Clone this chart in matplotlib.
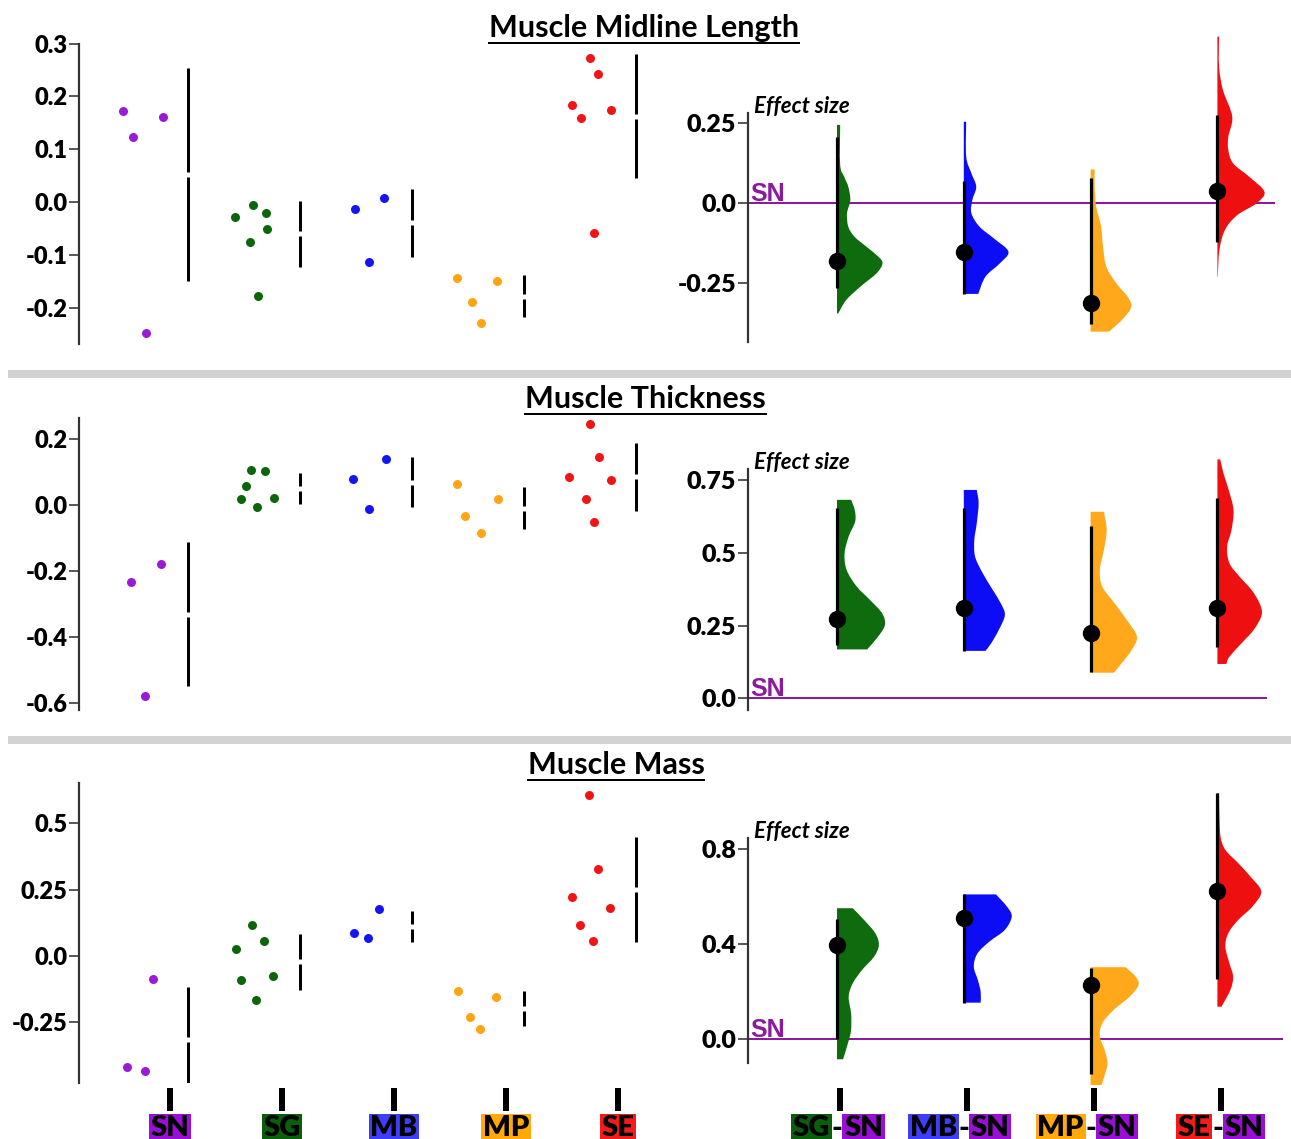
import matplotlib
matplotlib.use('Agg')
import matplotlib.pyplot as plt
import numpy as np
from matplotlib.patches import Rectangle, PathPatch
from matplotlib.path import Path
from matplotlib.lines import Line2D

plt.rcParams['font.family'] = ['Lato', 'DejaVu Sans']
plt.rcParams['font.weight'] = 'bold'

W, H, DPI = 1291, 1139, 100
PT = 72.0 / DPI  # points per pixel

# ---------------- data ----------------
groups = ['SN', 'SG', 'MB', 'MP', 'SE']
contrast_left = ['SG', 'MB', 'MP', 'SE']
contrast_right = ['SN', 'SN', 'SN', 'SN']
titles = ['Muscle Midline Length', 'Muscle Thickness', 'Muscle Mass']

# raw observations (per group) and strip jitter (category units)
midline_SN = [0.173, 0.124, 0.161, -0.248]
midline_SG = [-0.029, -0.006, -0.021, -0.051, -0.076, -0.178]
midline_MB = [-0.013, 0.007, -0.113]
midline_MP = [-0.143, -0.190, -0.150, -0.230]
midline_SE = [0.273, 0.243, 0.183, 0.160, 0.175, -0.059]
midline_jit = [[-0.17, -0.08, 0.19, 0.04],
               [-0.17, -0.01, 0.11, 0.12, -0.04, 0.04],
               [-0.10, 0.16, 0.03],
               [-0.19, -0.05, 0.17, 0.03],
               [0.0, 0.07, -0.16, -0.08, 0.19, 0.04]]

thick_SN = [-0.234, -0.178, -0.579]
thick_SG = [0.105, 0.103, 0.058, 0.017, -0.005, 0.022]
thick_MB = [0.080, 0.140, -0.012]
thick_MP = [0.063, 0.018, -0.032, -0.086]
thick_SE = [0.244, 0.146, 0.084, 0.077, 0.017, -0.053]
thick_jit = [[-0.10, 0.17, 0.03],
             [-0.03, 0.10, -0.07, -0.12, 0.03, 0.18],
             [-0.12, 0.18, 0.03],
             [-0.19, 0.18, -0.12, 0.03],
             [0.0, 0.08, -0.19, 0.19, -0.04, 0.04]]

mass_SN = [-0.088, -0.420, -0.432]
mass_SG = [0.116, 0.057, 0.026, -0.089, -0.077, -0.167]
mass_MB = [0.087, 0.068, 0.176]
mass_MP = [-0.131, -0.231, -0.274, -0.153]
mass_SE = [0.607, 0.329, 0.222, 0.180, 0.117, 0.055]
mass_jit = [[0.10, -0.13, 0.03],
            [-0.02, 0.09, -0.16, -0.12, 0.17, 0.02],
            [-0.11, 0.02, 0.12],
            [-0.18, -0.07, 0.02, 0.16],
            [-0.01, 0.07, -0.16, 0.18, -0.09, 0.03]]

# effect sizes (difference vs SN) with 95% CI
midline_es = [-0.181, -0.155, -0.3125, 0.036]
midline_lo = [-0.268, -0.285, -0.379, -0.122]
midline_hi = [0.206, 0.068, 0.076, 0.274]
thick_es = [0.271, 0.309, 0.223, 0.309]
thick_lo = [0.183, 0.163, 0.089, 0.178]
thick_hi = [0.655, 0.655, 0.593, 0.690]
mass_es = [0.396, 0.511, 0.228, 0.623]
mass_lo = [0.0, 0.154, -0.147, 0.254]
mass_hi = [0.504, 0.609, 0.301, 1.034]

# bootstrap distribution outlines (value, half-width)
midline_vy = [
    [0.243, 0.118, 0.081, 0.050, 0.008, -0.033, -0.075, -0.106, -0.1375, -0.169, -0.190, -0.221, -0.2625, -0.304, -0.346],
    [0.253, 0.144, 0.092, 0.050, 0.008, -0.033, -0.075, -0.111, -0.153, -0.190, -0.231, -0.285],
    [0.104, 0.050, -0.0125, -0.075, -0.1375, -0.200, -0.252, -0.294, -0.325, -0.361, -0.403],
    [0.519, 0.425, 0.352, 0.269, 0.206, 0.165, 0.123, 0.081, 0.034, -0.002, -0.039, -0.085, -0.148, -0.231]]
midline_vw = [
    [0.025, 0.025, 0.057, 0.089, 0.105, 0.079, 0.089, 0.137, 0.232, 0.327, 0.359, 0.311, 0.184, 0.073, 0.010],
    [0.019, 0.019, 0.060, 0.098, 0.067, 0.060, 0.124, 0.235, 0.352, 0.283, 0.171, 0.114],
    [0.032, 0.032, 0.044, 0.083, 0.098, 0.124, 0.203, 0.292, 0.321, 0.260, 0.146],
    [0.013, 0.013, 0.044, 0.117, 0.086, 0.086, 0.124, 0.251, 0.371, 0.308, 0.156, 0.060, 0.016, 0.003]]

thick_vy = [
    [0.682, 0.647, 0.607, 0.556, 0.498, 0.441, 0.384, 0.338, 0.292, 0.252, 0.212, 0.168],
    [0.716, 0.670, 0.601, 0.544, 0.487, 0.430, 0.372, 0.326, 0.286, 0.235, 0.189, 0.163],
    [0.641, 0.578, 0.510, 0.441, 0.384, 0.326, 0.269, 0.212, 0.166, 0.120, 0.088],
    [0.821, 0.773, 0.716, 0.647, 0.578, 0.521, 0.464, 0.418, 0.372, 0.326, 0.286, 0.235, 0.189, 0.143, 0.118]]
thick_vw = [
    [0.111, 0.140, 0.143, 0.092, 0.060, 0.076, 0.156, 0.260, 0.356, 0.378, 0.324, 0.238],
    [0.102, 0.117, 0.102, 0.083, 0.089, 0.149, 0.229, 0.292, 0.324, 0.276, 0.216, 0.171],
    [0.105, 0.127, 0.105, 0.073, 0.092, 0.190, 0.286, 0.365, 0.324, 0.244, 0.184],
    [0.022, 0.048, 0.089, 0.127, 0.111, 0.076, 0.095, 0.175, 0.270, 0.333, 0.349, 0.286, 0.190, 0.095, 0.070]]

mass_vy = [
    [0.551, 0.502, 0.446, 0.396, 0.347, 0.291, 0.235, 0.179, 0.109, 0.039, -0.017, -0.084],
    [0.609, 0.558, 0.516, 0.460, 0.411, 0.361, 0.305, 0.249, 0.200, 0.154],
    [0.303, 0.263, 0.228, 0.179, 0.123, 0.067, 0.011, -0.045, -0.101, -0.150, -0.192],
    [1.034, 0.939, 0.852, 0.796, 0.740, 0.684, 0.621, 0.558, 0.502, 0.446, 0.389, 0.319, 0.263, 0.207, 0.137]]
mass_vw = [
    [0.124, 0.213, 0.302, 0.330, 0.292, 0.197, 0.124, 0.092, 0.111, 0.111, 0.086, 0.048],
    [0.254, 0.340, 0.378, 0.324, 0.203, 0.108, 0.079, 0.111, 0.133, 0.133],
    [0.276, 0.356, 0.378, 0.308, 0.181, 0.092, 0.073, 0.111, 0.133, 0.111, 0.086],
    [0.013, 0.016, 0.025, 0.063, 0.165, 0.260, 0.346, 0.276, 0.165, 0.086, 0.063, 0.095, 0.124, 0.102, 0.032]]

left_ticks = [[-0.2, -0.1, 0.0, 0.1, 0.2, 0.3], [-0.6, -0.4, -0.2, 0.0, 0.2], [-0.25, 0.0, 0.25, 0.5]]
left_ticklabels = [['-0.2', '-0.1', '0.0', '0.1', '0.2', '0.3'],
                   ['-0.6', '-0.4', '-0.2', '0.0', '0.2'],
                   ['-0.25', '0.0', '0.25', '0.5']]
right_ticks = [[-0.25, 0.0, 0.25], [0.0, 0.25, 0.5, 0.75], [0.0, 0.4, 0.8]]
right_ticklabels = [['-0.25', '0.0', '0.25'], ['0.0', '0.25', '0.5', '0.75'], ['0.0', '0.4', '0.8']]

# ---------------- styles ----------------
dot_col = {'SN': '#9A1BD6', 'SG': '#0B660B', 'MB': '#1414F5', 'MP': '#FFA514', 'SE': '#F01414'}
vio_col = {'SG': '#0E6B0E', 'MB': '#0D0DF5', 'MP': '#FFA81C', 'SE': '#EE1010'}
box_col = {'SN': '#9A0FD6', 'SG': '#0B5E0B', 'MB': '#3E3EFA', 'MP': '#FFAA0A', 'SE': '#F51B1B'}
sn_line = '#8B1A9E'
spine_col = '#333333'

rows = [
    dict(raw=[midline_SN, midline_SG, midline_MB, midline_MP, midline_SE], jit=midline_jit,
         es=midline_es, lo=midline_lo, hi=midline_hi, vy=midline_vy, vw=midline_vw,
         L=dict(top=30, bot=350, zero=202.0, ppu=528.0, sb=(-0.268, 0.3)),
         R=dict(top=30, bot=350, zero=202.7, ppu=320.0, sb=(-0.434, 0.279), lineend=1274),
         title_x=644, title_base=36.7),
    dict(raw=[thick_SN, thick_SG, thick_MB, thick_MP, thick_SE], jit=thick_jit,
         es=thick_es, lo=thick_lo, hi=thick_hi, vy=thick_vy, vw=thick_vw,
         L=dict(top=400, bot=715, zero=505.0, ppu=330.0, sb=(-0.621, 0.263)),
         R=dict(top=440, bot=715, zero=698.3, ppu=291.0, sb=(-0.040, 0.787), lineend=1266),
         title_x=645.5, title_base=408.3),
    dict(raw=[mass_SN, mass_SG, mass_MB, mass_MP, mass_SE], jit=mass_jit,
         es=mass_es, lo=mass_lo, hi=mass_hi, vy=mass_vy, vw=mass_vw,
         L=dict(top=770, bot=1083.3, zero=956.0, ppu=265.3, sb=(-0.48, 0.653)),
         R=dict(top=770, bot=1083.3, zero=1039.3, ppu=237.9, sb=(-0.098, 0.845), lineend=1282),
         title_x=616, title_base=774.3),
]

fig = plt.figure(figsize=(W / DPI, H / DPI), dpi=DPI)
fig.patch.set_facecolor('white')

L_X0, L_X1, L_C0, L_SP = 78.7, 660.0, 142.0, 112.0
R_X0, R_X1, R_C0, R_SP = 747.5, 1290.0, 837.0, 126.8
BAR_OFF = 0.41


def px_axes(x0, x1, ytop, ybot, zero, ppu, xlim, labelsize):
    ax = fig.add_axes([x0 / W, 1 - ybot / H, (x1 - x0) / W, (ybot - ytop) / H])
    ax.set_ylim((zero - ybot) / ppu, (zero - ytop) / ppu)
    ax.set_xlim(*xlim)
    ax.patch.set_alpha(0)
    for s in ['top', 'right', 'bottom']:
        ax.spines[s].set_visible(False)
    ax.spines['left'].set_color(spine_col)
    ax.spines['left'].set_linewidth(2.2 * PT)
    ax.tick_params(axis='y', length=10 * PT, width=1.6 * PT, color=spine_col, pad=1,
                   labelsize=labelsize)
    return ax


def half_violin(ax, x0, ys, ws, color):
    """Right half-violin outline through the read points (smooth Bezier path)."""
    pts = np.column_stack([x0 + np.asarray(ws), np.asarray(ys)])
    ext = np.vstack([pts[0], pts, pts[-1]])
    verts = [(x0, pts[0, 1]), tuple(pts[0])]
    codes = [Path.MOVETO, Path.LINETO]
    for k in range(1, len(ext) - 2):
        p0, p1, p2, p3 = ext[k - 1], ext[k], ext[k + 1], ext[k + 2]
        c1 = p1 + (p2 - p0) / 6.0
        c2 = p2 - (p3 - p1) / 6.0
        verts += [tuple(c1), tuple(c2), tuple(p2)]
        codes += [Path.CURVE4] * 3
    verts += [(x0, pts[-1, 1]), (x0, pts[0, 1])]
    codes += [Path.LINETO, Path.CLOSEPOLY]
    ax.add_patch(PathPatch(Path(verts, codes), facecolor=color, edgecolor='none', lw=0,
                           zorder=2, clip_on=False))


for r, row in enumerate(rows):
    Lp, Rp = row['L'], row['R']
    # ---------- left: raw data ----------
    axL = px_axes(L_X0, L_X1, Lp['top'], Lp['bot'], Lp['zero'], Lp['ppu'],
                  ((L_X0 - L_C0) / L_SP, (L_X1 - L_C0) / L_SP), 17)
    axL.spines['left'].set_bounds(*Lp['sb'])
    axL.set_yticks(left_ticks[r])
    axL.set_yticklabels(left_ticklabels[r], fontweight='heavy')
    gap = 2.5 / Lp['ppu']
    for i, g in enumerate(groups):
        vals = np.array(row['raw'][i])
        axL.scatter(i + np.array(row['jit'][i]), vals, s=42, color=dot_col[g], lw=0, zorder=3,
                    clip_on=False)
        m = vals.mean()
        sd = vals.std(ddof=1)
        xb = i + BAR_OFF
        axL.vlines([xb, xb], [m + gap, m - sd], [m + sd, m - gap], color='black',
                   lw=3.0 * PT, zorder=2)
    # ---------- right: effect sizes ----------
    axR = px_axes(R_X0, R_X1, Rp['top'], Rp['bot'], Rp['zero'], Rp['ppu'],
                  ((R_X0 - R_C0) / R_SP, (R_X1 - R_C0) / R_SP), 18)
    axR.spines['left'].set_bounds(*Rp['sb'])
    axR.set_yticks(right_ticks[r])
    axR.set_yticklabels(right_ticklabels[r], fontweight='heavy')
    axR.axhline(0, xmin=0, xmax=(Rp['lineend'] - R_X0) / (R_X1 - R_X0), color=sn_line,
                lw=2.0 * PT, zorder=1)
    for j, g in enumerate(contrast_left):
        half_violin(axR, j, row['vy'][j], row['vw'][j], vio_col[g])
        axR.vlines(j, row['lo'][j], row['hi'][j], color='black', lw=3.2 * PT, zorder=3,
                   clip_on=False)
        axR.plot([j], [row['es'][j]], 'o', color='black', ms=16 * PT, zorder=4, clip_on=False)
    axR.annotate('SN', xy=(0, 0), xycoords=('axes fraction', 'data'),
                 xytext=(3 * PT, 2 * PT), textcoords='offset points', ha='left', va='baseline',
                 color=sn_line, fontsize=18, fontweight='bold',
                 family=['Liberation Sans', 'DejaVu Sans'])
    axR.annotate('Effect size', xy=(0, Rp['sb'][1]), xycoords=('axes fraction', 'data'),
                 xytext=(6 * PT, 0), textcoords='offset points', ha='left', va='baseline',
                 fontsize=16, fontweight='bold', fontstyle='italic', color='black')

    # ---------- bottom category labels on last row ----------
    if r == 2:
        for ax in (axL, axR):
            ax.spines['bottom'].set_position(('outward', 5 * PT))
            ax.tick_params(axis='x', length=23 * PT, width=6 * PT, color='black',
                           direction='out', labelbottom=False)
        axL.set_xticks([i + 0.25 for i in range(len(groups))])
        axR.set_xticks([j + 0.025 for j in range(len(contrast_left))])
        lab_kw = dict(textcoords='offset points', va='baseline', fontsize=21,
                      fontweight='heavy', color='black')
        dy = -(1136.5 - 1083.3) * PT
        for i, g in enumerate(groups):
            axL.annotate(g, xy=(i + 0.25, 0), xycoords=('data', 'axes fraction'),
                         xytext=(0, dy), ha='center',
                         bbox=dict(boxstyle='square,pad=0.06', fc=box_col[g], ec='none'), **lab_kw)
        for j, (a, b) in enumerate(zip(contrast_left, contrast_right)):
            xj = j + 0.025
            axR.annotate('-', xy=(xj, 0), xycoords=('data', 'axes fraction'),
                         xytext=(-3 * PT, dy), ha='center', **lab_kw)
            axR.annotate(a, xy=(xj, 0), xycoords=('data', 'axes fraction'),
                         xytext=(-10 * PT, dy), ha='right',
                         bbox=dict(boxstyle='square,pad=0.06', fc=box_col[a], ec='none'), **lab_kw)
            axR.annotate(b, xy=(xj, 0), xycoords=('data', 'axes fraction'),
                         xytext=(4 * PT, dy), ha='left',
                         bbox=dict(boxstyle='square,pad=0.06', fc=box_col[b], ec='none'), **lab_kw)
    else:
        axL.set_xticks([])
        axR.set_xticks([])

# ---------- titles with underline ----------
renderer = fig.canvas.get_renderer()
for r, row in enumerate(rows):
    t = fig.text(row['title_x'] / W, 1 - row['title_base'] / H, titles[r], ha='center',
                 va='baseline', fontsize=22, fontweight='bold', color='black')
    bb = t.get_window_extent(renderer)
    yline = 1 - (row['title_base'] + 6) / H
    fig.add_artist(Line2D([bb.x0 / W, bb.x1 / W], [yline, yline], transform=fig.transFigure,
                          color='black', lw=2.0 * PT))

# ---------- grey separators ----------
for ytop in (370, 736):
    fig.add_artist(Rectangle((8 / W, 1 - (ytop + 8) / H), (W - 8) / W, 8 / H,
                             transform=fig.transFigure, color='#D3D3D3', lw=0))

fig.savefig('out.png', dpi=DPI, facecolor='white')
